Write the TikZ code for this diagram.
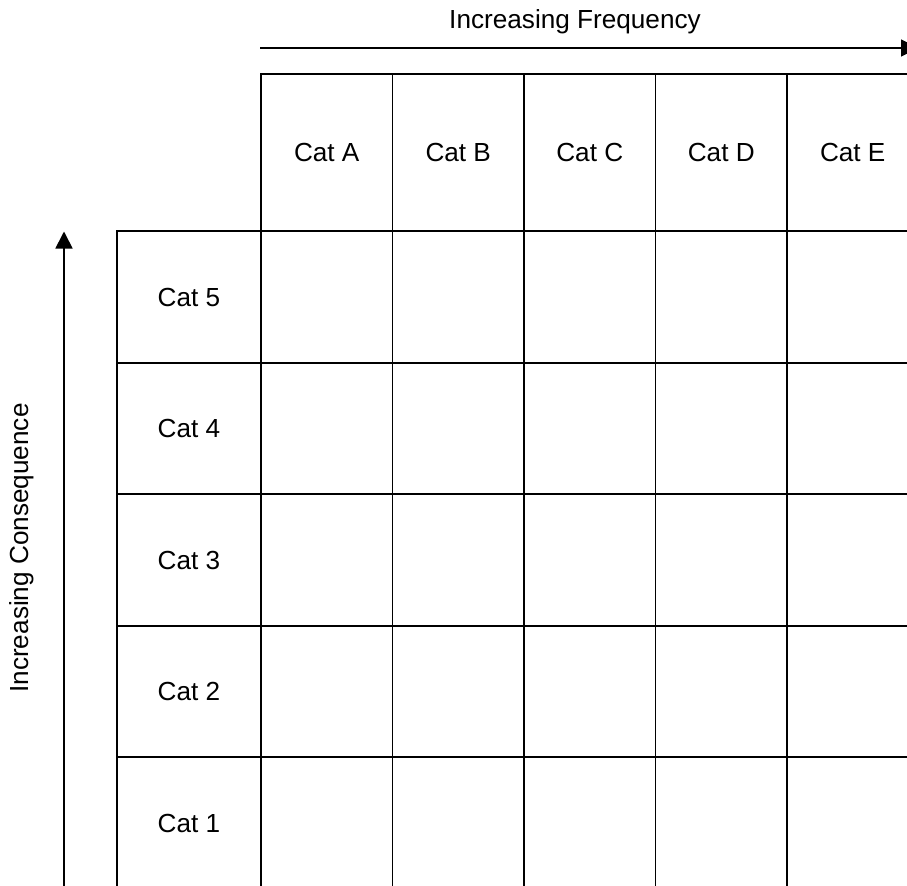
\documentclass[tikz,border=0pt]{standalone}
\usepackage{fontspec}
\setmainfont{Liberation Sans}
\usetikzlibrary{arrows.meta}

\tikzset{
  gridline/.style={draw, line width=1.3pt, inner sep=0pt, outer sep=0pt},
  headcell/.style={gridline, minimum width=3.2875cm, minimum height=3.925cm},
  rowcell/.style={gridline, minimum width=3.6cm, minimum height=3.2875cm},
  bodycell/.style={gridline, minimum width=3.2875cm, minimum height=3.2875cm},
  axisarrow/.style={line width=1.2pt, -{Triangle[length=0.425cm, width=0.425cm]}},
  axislabel/.style={font=\fontsize{18.6}{22}\selectfont},
}

\begin{document}
\begin{tikzpicture}[x=0.025cm, y=-0.025cm, font=\fontsize{18.6}{22}\selectfont]

	\useasboundingbox (0,0) rectangle (907,886);
	\clip (0,0) rectangle (907,886);

	% header row and first column
	\foreach \c [count=\i from 0] in {A,B,C,D,E}
		\node[headcell] (head\c) at ({326.75+131.5*\i},152.5) {Cat \c};
	\foreach \r [count=\i from 0] in {5,4,3,2,1}
		\node[rowcell] (row\r) at (189,{297+131.5*\i}) {Cat \r};

	% matrix cells
	\foreach \c in {A,B,C,D,E}
		\foreach \r in {5,4,3,2,1}
			\node[bodycell] (cell\c\r) at (head\c |- row\r) {};

	% axes
	\coordinate (freqstart) at (260,48);
	\coordinate (freqend) at (918,48);
	\draw[axisarrow] (freqstart) -- (freqend);
	\node[axislabel] (freqlabel) at (575,22) {Increasing Frequency};

	\coordinate (consstart) at (64,890);
	\coordinate (consend) at (64,231.5);
	\draw[axisarrow] (consstart) -- (consend);
	\node[axislabel, rotate=90] (conslabel) at (22,548) {Increasing Consequence};

\end{tikzpicture}
\end{document}
